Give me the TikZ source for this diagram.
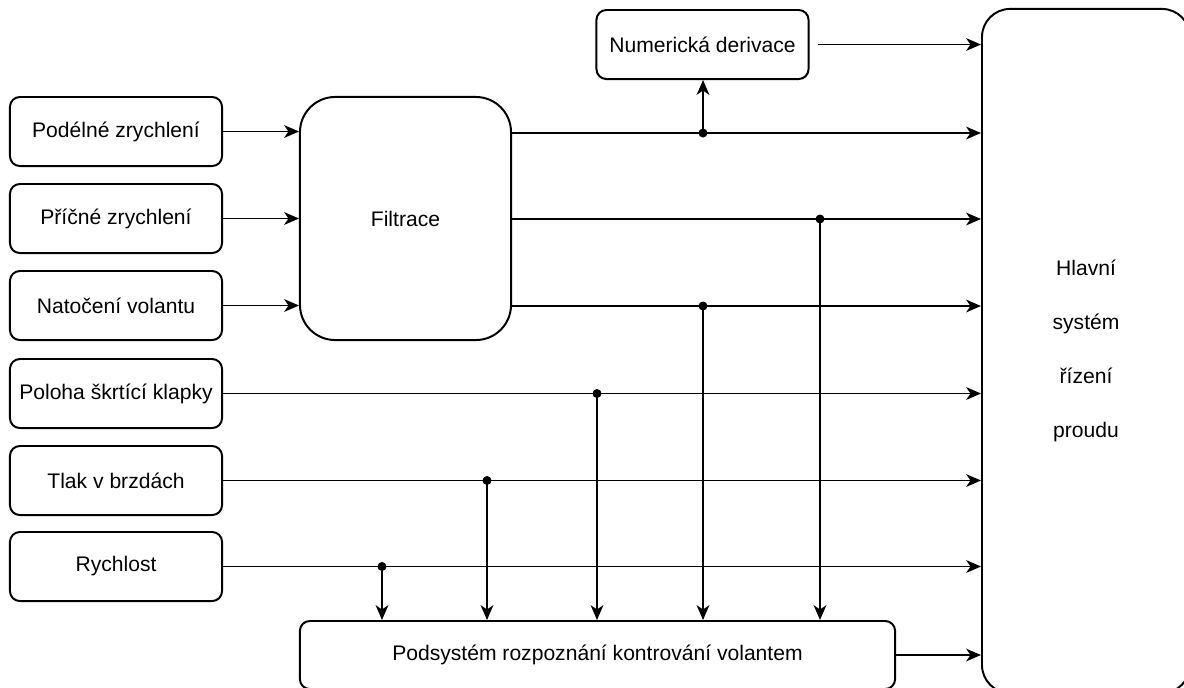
\documentclass[tikz,border=0pt]{standalone}
\usepackage{fontspec}
\setmainfont{Liberation Sans}
\usetikzlibrary{arrows.meta}

\tikzset{
  blok/.style={draw, line width=1.4pt, rounded corners=7pt, align=center, inner sep=0pt},
  maly/.style={minimum width=5.3cm, minimum height=1.725cm},
  sipka/.style={line width=1.4pt, -{Stealth[length=10.5pt,width=9pt,inset=3pt]}},
  uzel/.style={fill=black}
}

\begin{document}
\begin{tikzpicture}[x=0.025cm, y=-0.025cm, font=\fontsize{15}{17}\selectfont]
  \useasboundingbox (0,0) rectangle (1184,687);
  \clip (0,0) rectangle (1184,687);

  % senzory vlevo
  \foreach \jm/\y/\txt in {podelne/131.5/Podélné zrychlení, pricne/218.5/Příčné zrychlení,
      natoceni/305.5/Natočení volantu, poloha/393.5/Poloha škrtící klapky,
      tlak/480.5/Tlak v brzdách, rychlost/566.5/Rychlost}{
    \node[blok, maly] (\jm) at (116,\y) {\txt};
  }
  \node[blok, minimum width=5.275cm, minimum height=6.075cm, rounded corners=25pt] (filtrace) at (405.5,218.5) {Filtrace};
  \node[blok, maly] (derivace) at (702.5,44.5) {Numerická derivace};
  \node[blok, minimum width=5.2cm, minimum height=17.1cm, rounded corners=20pt,
        font=\fontsize{15}{38.4}\selectfont] (hlavni) at (1086,351) {Hlavní\\systém\\řízení\\proudu};
  \node[blok, minimum width=14.875cm, minimum height=1.7cm] (podsystem) at (597.5,655) {Podsystém rozpoznání kontrování volantem};

  % vstupy do filtrace
  \foreach \jm in {podelne,pricne,natoceni}
    \draw[sipka] (\jm) -- (\jm -| filtrace.west);

  % filtrovane signaly
  \foreach \x/\y [count=\i] in {703/133, 820/219, 703/306}{
    \coordinate (f\i) at (\x,\y);
    \draw[sipka] (filtrace.east |- f\i) -- (hlavni.west |- f\i);
    \fill[uzel] (f\i) circle (3.2pt);
  }
  \draw[sipka] (f1) -- (f1 |- derivace.south);
  \draw[sipka] (f2) -- (f2 |- podsystem.north);
  \draw[sipka] (f3) -- (f3 |- podsystem.north);

  % primo vedene signaly
  \foreach \jm/\x/\y in {poloha/597/393.5, tlak/487/480.5, rychlost/382/566.5}{
    \coordinate (u\jm) at (\x,\y);
    \draw[sipka] (\jm) -- (hlavni.west |- \jm);
    \draw[sipka] (u\jm) -- (u\jm |- podsystem.north);
    \fill[uzel] (u\jm) circle (3.2pt);
  }

  \draw[sipka, shorten <=6pt] (derivace) -- (hlavni.west |- derivace);
  \draw[sipka] (podsystem) -- (hlavni.west |- podsystem);
\end{tikzpicture}
\end{document}
